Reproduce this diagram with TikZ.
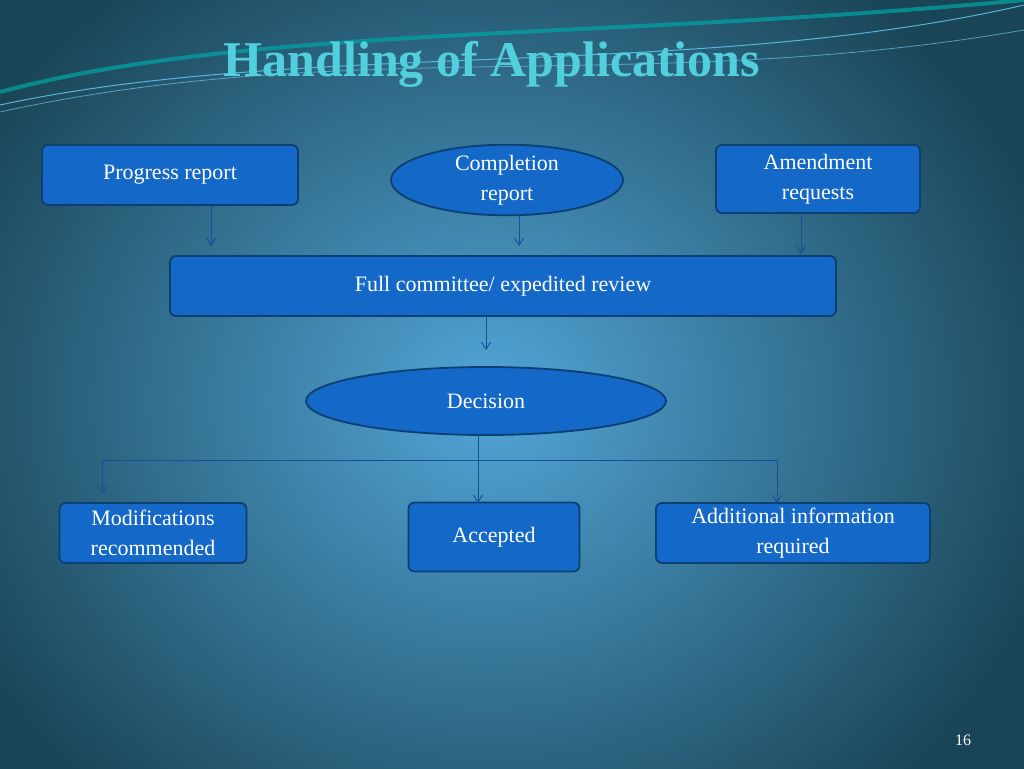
\documentclass[tikz,border=0pt]{standalone}
\usepackage{fontspec}
\setmainfont{Liberation Serif}
\usetikzlibrary{shapes.geometric,arrows.meta}
\definecolor{boxfill}{HTML}{1468C8}
\definecolor{boxdraw}{HTML}{0C3F72}
\definecolor{titlec}{HTML}{52CFDD}
\definecolor{linec}{HTML}{15509A}
\definecolor{bgout}{HTML}{1A4556}
\definecolor{bgin}{HTML}{52A6D8}
\begin{document}
\begin{tikzpicture}[x=1pt,y=-1pt,
  box/.style={draw=boxdraw,line width=1.8pt,fill=boxfill,rounded corners=6pt,text=white,font=\fontsize{22}{30}\selectfont,align=center,inner sep=0pt},
  oval/.style={ellipse,draw=boxdraw,line width=1.8pt,fill=boxfill,text=white,font=\fontsize{22}{30}\selectfont,align=center,inner sep=0pt},
  conn/.style={draw=linec,line width=1pt},
  arr/.style={conn,-{Straight Barb[length=7pt,width=9pt]}}]
\useasboundingbox (0,0) rectangle (1024,768);
\begin{scope}
\clip (0,0) rectangle (1024,768);
\shade[outer color=bgout,inner color=bgin] (-100,-130) rectangle (1080,930);
% decorative top curves
\draw[teal!70!cyan,line width=4pt,opacity=0.7] (0,92) .. controls (250,25) and (600,40) .. (1024,0);
\draw[cyan!60!white,line width=1pt,opacity=0.8] (0,105) .. controls (300,40) and (700,80) .. (1024,5);
\draw[cyan!50!white,line width=0.8pt,opacity=0.6] (0,112) .. controls (350,35) and (650,95) .. (1024,30);
\end{scope}
\node[font=\bfseries\fontsize{50}{58}\selectfont,text=titlec] (title) at (492,64) {Handling of Applications};
\node[box,minimum width=256pt,minimum height=60pt] (prog) at (170,175) {Progress report};
\node[oval,minimum width=232pt,minimum height=66pt] (comp) at (507,180) {Completion\\report};
\node[box,minimum width=204pt,minimum height=68pt] (amend) at (818,179) {Amendment\\requests};
\node[box,minimum width=666pt,minimum height=60pt] (full) at (503,286) {Full committee/ expedited review};
\node[oval,minimum width=360pt,minimum height=68pt] (dec) at (486,401) {Decision};
\node[box,minimum width=187pt,minimum height=60pt] (mod) at (153,533) {Modifications\\recommended};
\node[box,minimum width=171pt,minimum height=69pt] (acc) at (494,537) {Accepted};
\node[box,minimum width=274pt,minimum height=60pt] (add) at (793,533) {Additional information\\required};
\node[font=\fontsize{16}{18}\selectfont,text=white] (pg) at (963,740) {16};
\coordinate (s1) at (211,206);
\coordinate (a1) at (211,246);
\coordinate (s2) at (519,213);
\coordinate (a2) at (519,246);
\coordinate (s3) at (801,214);
\coordinate (a4) at (801,254);
\coordinate (s4) at (486,317);
\coordinate (a3) at (486,350);
\coordinate (sd) at (478,435);
\coordinate (j) at (478,460);
\coordinate (jl) at (102,460);
\coordinate (jr) at (777,460);
\coordinate (el) at (102,494);
\coordinate (er) at (777,503);
\coordinate (ec) at (478,503);
\draw[arr] (s1) -- (a1);
\draw[arr] (s2) -- (a2);
\draw[arr] (s3) -- (a4);
\draw[arr] (s4) -- (a3);
\draw[arr] (sd) -- (ec);
\draw[arr] (j) -- (jl) -- (el);
\draw[arr] (j) -- (jr) -- (er);
\end{tikzpicture}
\end{document}
